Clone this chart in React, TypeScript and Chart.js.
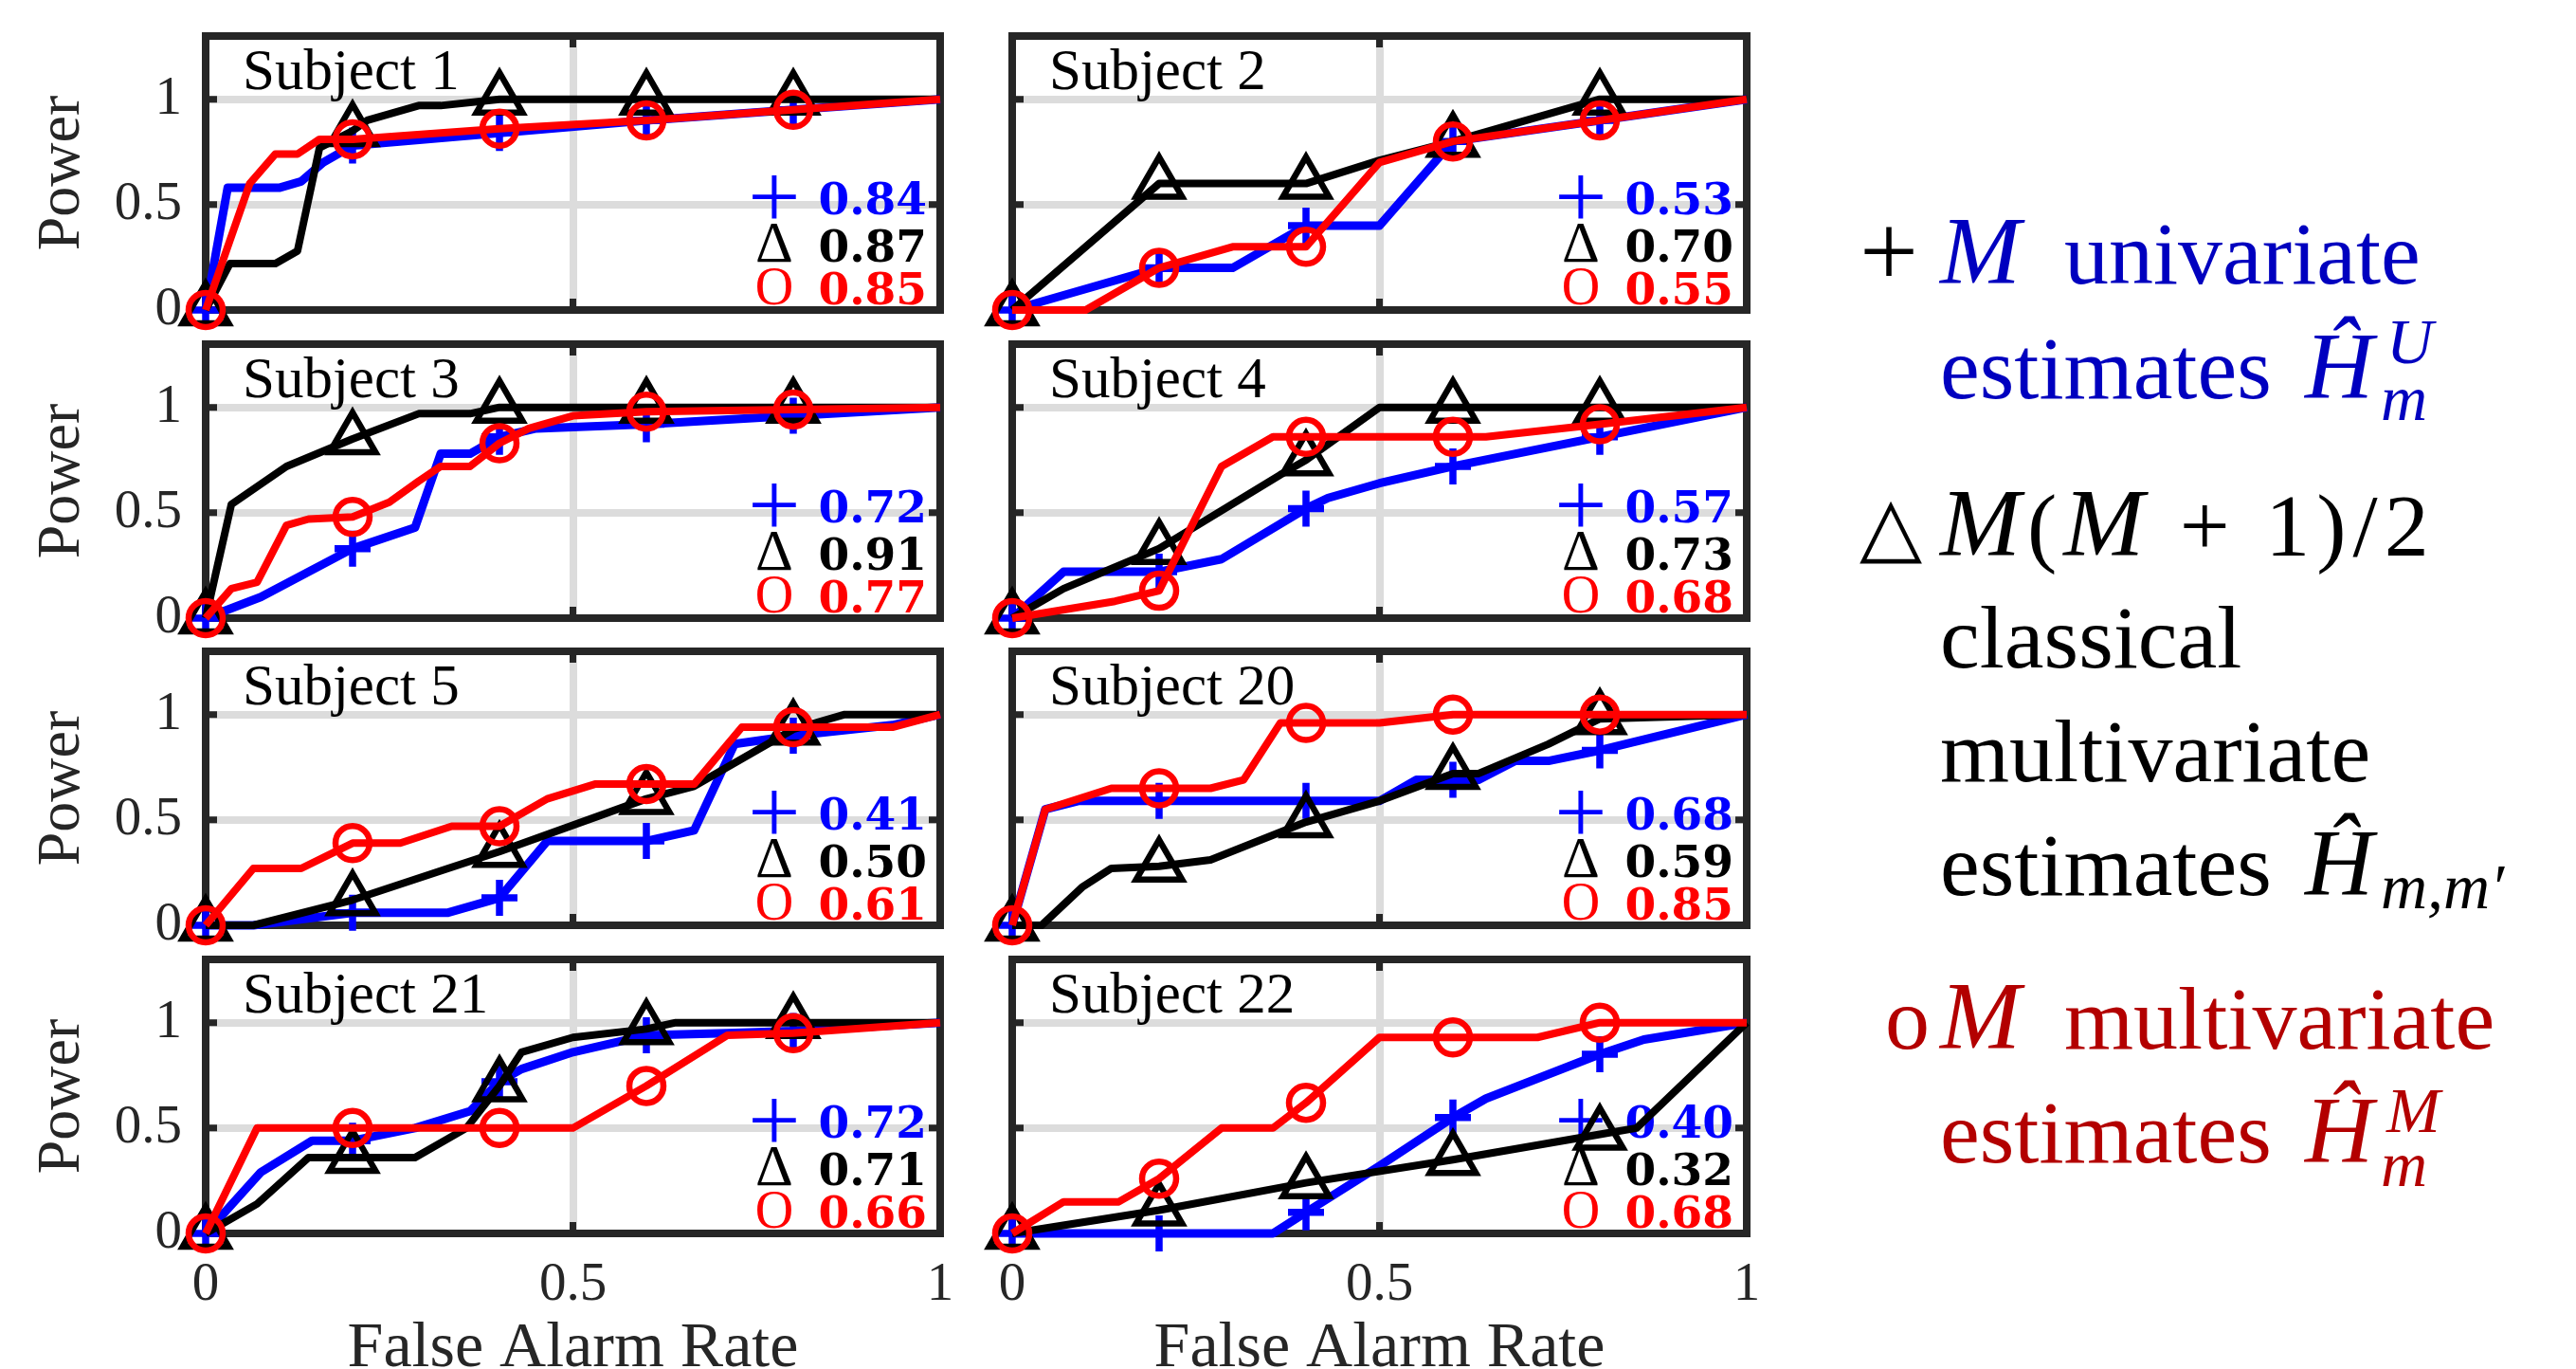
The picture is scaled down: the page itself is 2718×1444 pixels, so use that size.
import React, { useEffect, useRef } from "react";
import { Chart, registerables } from "chart.js";

Chart.register(...registerables);

type Pt = [number, number];

// ---------- text / tick data ----------
const subjectNames = ["Subject 1", "Subject 2", "Subject 3", "Subject 4", "Subject 5", "Subject 20", "Subject 21", "Subject 22"];
const aucUnivariate = ["0.84", "0.53", "0.72", "0.57", "0.41", "0.68", "0.72", "0.40"];
const aucClassical = ["0.87", "0.70", "0.91", "0.73", "0.50", "0.59", "0.71", "0.32"];
const aucMultivariate = ["0.85", "0.55", "0.77", "0.68", "0.61", "0.85", "0.66", "0.68"];
const xTickValues = [0, 0.5, 1];
const yTickValues = [0, 0.5, 1];
const markerFprs = [0, 0.2, 0.4, 0.6, 0.8];

// ---------- ROC curves: [false alarm rate, power] ----------
const s1Univariate: Pt[] = [[0, 0], [0.03, 0.58], [0.1, 0.58], [0.13, 0.61], [0.16, 0.7], [0.2, 0.78], [0.4, 0.84], [0.6, 0.9], [0.8, 0.95], [1, 1]];
const s1Classical: Pt[] = [[0, 0], [0.033, 0.22], [0.095, 0.22], [0.125, 0.28], [0.155, 0.77], [0.2, 0.85], [0.22, 0.9], [0.29, 0.97], [0.32, 0.97], [0.4, 1], [0.6, 1], [0.8, 1], [1, 1]];
const s1Multivariate: Pt[] = [[0, 0], [0.06, 0.6], [0.095, 0.74], [0.125, 0.74], [0.155, 0.81], [0.2, 0.81], [0.4, 0.86], [0.6, 0.9], [0.8, 0.95], [1, 1]];

const s2Univariate: Pt[] = [[0, 0], [0.2, 0.2], [0.3, 0.2], [0.4, 0.4], [0.5, 0.4], [0.6, 0.8], [0.8, 0.9], [1, 1]];
const s2Classical: Pt[] = [[0, 0], [0.2, 0.6], [0.4, 0.6], [0.5, 0.71], [0.6, 0.8], [0.8, 1], [1, 1]];
const s2Multivariate: Pt[] = [[0, 0], [0.1, 0], [0.2, 0.2], [0.3, 0.3], [0.4, 0.3], [0.5, 0.7], [0.6, 0.8], [0.8, 0.9], [1, 1]];

const s3Univariate: Pt[] = [[0, 0], [0.075, 0.1], [0.2, 0.33], [0.285, 0.43], [0.32, 0.78], [0.36, 0.78], [0.4, 0.86], [0.45, 0.9], [0.6, 0.92], [0.8, 0.96], [1, 1]];
const s3Classical: Pt[] = [[0, 0], [0.035, 0.54], [0.11, 0.72], [0.2, 0.85], [0.29, 0.97], [0.36, 0.97], [0.4, 1], [0.6, 1], [0.8, 1], [1, 1]];
const s3Multivariate: Pt[] = [[0, 0], [0.035, 0.14], [0.07, 0.17], [0.11, 0.44], [0.14, 0.47], [0.2, 0.48], [0.25, 0.55], [0.29, 0.65], [0.32, 0.72], [0.36, 0.72], [0.4, 0.83], [0.44, 0.9], [0.5, 0.96], [0.6, 0.98], [0.8, 0.99], [1, 1]];

const s4Univariate: Pt[] = [[0, 0], [0.07, 0.22], [0.2, 0.22], [0.285, 0.28], [0.4, 0.52], [0.43, 0.57], [0.5, 0.64], [0.6, 0.72], [0.8, 0.86], [1, 1]];
const s4Classical: Pt[] = [[0, 0], [0.07, 0.14], [0.2, 0.33], [0.365, 0.68], [0.4, 0.75], [0.5, 1], [0.6, 1], [0.8, 1], [1, 1]];
const s4Multivariate: Pt[] = [[0, 0], [0.14, 0.08], [0.2, 0.13], [0.285, 0.72], [0.355, 0.86], [0.4, 0.86], [0.6, 0.86], [0.645, 0.86], [0.8, 0.92], [1, 1]];

const s5Univariate: Pt[] = [[0, 0], [0.065, 0], [0.2, 0.06], [0.33, 0.06], [0.4, 0.13], [0.465, 0.4], [0.6, 0.4], [0.665, 0.45], [0.72, 0.86], [0.8, 0.9], [0.935, 0.95], [1, 1]];
const s5Classical: Pt[] = [[0, 0], [0.065, 0], [0.2, 0.12], [0.33, 0.27], [0.4, 0.35], [0.6, 0.6], [0.665, 0.66], [0.8, 0.93], [0.87, 1], [1, 1]];
const s5Multivariate: Pt[] = [[0, 0], [0.065, 0.27], [0.13, 0.27], [0.2, 0.39], [0.265, 0.39], [0.335, 0.47], [0.4, 0.47], [0.465, 0.6], [0.53, 0.67], [0.6, 0.67], [0.665, 0.67], [0.73, 0.94], [0.8, 0.94], [0.935, 0.94], [1, 1]];

const s20Univariate: Pt[] = [[0, 0], [0.045, 0.55], [0.09, 0.59], [0.2, 0.59], [0.4, 0.59], [0.5, 0.59], [0.55, 0.69], [0.6, 0.69], [0.635, 0.69], [0.685, 0.78], [0.73, 0.78], [0.8, 0.83], [1, 1]];
const s20Classical: Pt[] = [[0, 0], [0.04, 0], [0.095, 0.18], [0.135, 0.27], [0.2, 0.28], [0.27, 0.31], [0.4, 0.49], [0.5, 0.59], [0.6, 0.72], [0.635, 0.72], [0.73, 0.86], [0.8, 0.98], [1, 1]];
const s20Multivariate: Pt[] = [[0, 0], [0.045, 0.55], [0.135, 0.65], [0.2, 0.65], [0.27, 0.65], [0.315, 0.69], [0.365, 0.96], [0.4, 0.96], [0.5, 0.96], [0.6, 1], [0.8, 1], [1, 1]];

const s21Univariate: Pt[] = [[0, 0], [0.075, 0.29], [0.145, 0.44], [0.2, 0.44], [0.285, 0.5], [0.36, 0.58], [0.4, 0.72], [0.43, 0.78], [0.5, 0.86], [0.6, 0.94], [0.71, 0.95], [0.8, 0.96], [1, 1]];
const s21Classical: Pt[] = [[0, 0], [0.07, 0.14], [0.14, 0.36], [0.2, 0.36], [0.285, 0.36], [0.355, 0.5], [0.4, 0.7], [0.43, 0.86], [0.5, 0.93], [0.6, 0.97], [0.64, 1], [0.8, 1], [1, 1]];
const s21Multivariate: Pt[] = [[0, 0], [0.07, 0.5], [0.2, 0.5], [0.4, 0.5], [0.5, 0.5], [0.6, 0.7], [0.71, 0.94], [0.8, 0.95], [1, 1]];

const s22Univariate: Pt[] = [[0, 0], [0.2, 0], [0.355, 0], [0.4, 0.1], [0.5, 0.32], [0.6, 0.55], [0.645, 0.64], [0.8, 0.85], [0.86, 0.92], [1, 1]];
const s22Classical: Pt[] = [[0, 0], [0.2, 0.11], [0.4, 0.24], [0.6, 0.35], [0.8, 0.47], [0.85, 0.5], [1, 1]];
const s22Multivariate: Pt[] = [[0, 0], [0.07, 0.15], [0.145, 0.15], [0.2, 0.26], [0.285, 0.5], [0.355, 0.5], [0.4, 0.62], [0.5, 0.93], [0.6, 0.93], [0.715, 0.93], [0.8, 1], [1, 1]];

const univariateCurves = [s1Univariate, s2Univariate, s3Univariate, s4Univariate, s5Univariate, s20Univariate, s21Univariate, s22Univariate];
const classicalCurves = [s1Classical, s2Classical, s3Classical, s4Classical, s5Classical, s20Classical, s21Classical, s22Classical];
const multivariateCurves = [s1Multivariate, s2Multivariate, s3Multivariate, s4Multivariate, s5Multivariate, s20Multivariate, s21Multivariate, s22Multivariate];

// ---------- styles ----------
const SERIF = '"Liberation Serif", "Times New Roman", serif';
const BOLD_NUM = '"DejaVu Serif", "Liberation Serif", serif';
const BLUE = "#0000ff";
const RED = "#ff0000";
const BLACK = "#000000";
const AXIS = "#262626";
const GRID = "#dcdcdc";
const LEG_BLUE = "#0000bf";
const LEG_RED = "#b30000";

function zeroPadding(s: any) {
  s.paddingTop = 0;
  s.paddingBottom = 0;
  s.paddingLeft = 0;
  s.paddingRight = 0;
}

function Panel({ idx }: { idx: number }) {
  const ref = useRef<HTMLCanvasElement>(null);
  const col = idx % 2;
  const row = Math.floor(idx / 2);
  const plotLeft = col === 0 ? 217 : 1068;
  const plotTop = [38, 363, 687, 1012][row];
  const plotW = 775;
  const plotH = 289;
  const canvasLeft = col === 0 ? 0 : 1030;
  const canvasW = col === 0 ? 1012 : 850;
  const canvasTop = plotTop - 38;
  const isBottom = row === 3;
  const canvasH = isBottom ? 1444 - canvasTop : 370;
  const yAxisW = plotLeft - canvasLeft;
  const xAxisH = canvasH - 38 - plotH;
  const rightPad = canvasLeft + canvasW - (plotLeft + plotW);

  useEffect(() => {
    const mk = (pts: Pt[]) => pts.map(([x, y]) => ({ x, y }));
    const markerRadius = (r: number) => (c: any) =>
      c.raw && markerFprs.includes(c.raw.x) ? r : 0;

    const decor = {
      id: "panelDecor",
      beforeDatasetsDraw(chart: any) {
        const ctx = chart.ctx as CanvasRenderingContext2D;
        const a = chart.chartArea;
        const xs = chart.scales.x;
        const ys = chart.scales.y;
        ctx.save();
        // axes box
        ctx.strokeStyle = AXIS;
        ctx.lineWidth = 8;
        ctx.strokeRect(a.left, a.top, a.right - a.left, a.bottom - a.top);
        // inward tick marks
        ctx.lineWidth = 7;
        xTickValues.forEach((v) => {
          const px = xs.getPixelForValue(v);
          ctx.beginPath();
          ctx.moveTo(px, a.bottom);
          ctx.lineTo(px, a.bottom - 12);
          ctx.moveTo(px, a.top);
          ctx.lineTo(px, a.top + 12);
          ctx.stroke();
        });
        yTickValues.forEach((v) => {
          const py = ys.getPixelForValue(v);
          ctx.beginPath();
          ctx.moveTo(a.left, py);
          ctx.lineTo(a.left + 12, py);
          ctx.moveTo(a.right, py);
          ctx.lineTo(a.right - 12, py);
          ctx.stroke();
        });
        // subject label
        ctx.fillStyle = BLACK;
        ctx.textAlign = "left";
        ctx.textBaseline = "alphabetic";
        ctx.font = `61px ${SERIF}`;
        ctx.fillText(subjectNames[idx], a.left + 39, a.top + 56);
        // AUC annotations
        const symX = a.right - 175;
        const numX = a.right - 14;
        ctx.textAlign = "center";
        ctx.fillStyle = BLUE;
        ctx.font = `98px ${SERIF}`;
        ctx.fillText("+", symX, a.top + 202);
        ctx.fillStyle = BLACK;
        ctx.font = `62px ${SERIF}`;
        ctx.fillText("Δ", symX, a.top + 238);
        ctx.fillStyle = RED;
        ctx.font = `56px ${SERIF}`;
        ctx.fillText("O", symX, a.top + 283);
        ctx.textAlign = "right";
        ctx.font = `bold 47px ${BOLD_NUM}`;
        ctx.fillStyle = BLUE;
        ctx.fillText(aucUnivariate[idx], numX, a.top + 188);
        ctx.fillStyle = BLACK;
        ctx.fillText(aucClassical[idx], numX, a.top + 238);
        ctx.fillStyle = RED;
        ctx.fillText(aucMultivariate[idx], numX, a.top + 283);
        ctx.restore();
      },
    };

    const chart = new Chart(ref.current as HTMLCanvasElement, {
      type: "line",
      data: {
        datasets: [
          {
            label: "M multivariate",
            data: mk(multivariateCurves[idx]),
            borderColor: RED,
            borderWidth: 8,
            pointStyle: "circle",
            pointRadius: markerRadius(18),
            pointBorderWidth: 6.5,
            pointBorderColor: RED,
            pointBackgroundColor: "rgba(0,0,0,0)",
            order: 1,
            clip: false,
          },
          {
            label: "M(M+1)/2 classical",
            data: mk(classicalCurves[idx]),
            borderColor: BLACK,
            borderWidth: 8,
            pointStyle: "triangle",
            pointRadius: markerRadius(28),
            pointBorderWidth: 6.5,
            pointBorderColor: BLACK,
            pointBackgroundColor: "rgba(0,0,0,0)",
            order: 2,
            clip: false,
          },
          {
            label: "M univariate",
            data: mk(univariateCurves[idx]),
            borderColor: BLUE,
            borderWidth: 9,
            pointStyle: "cross",
            pointRadius: markerRadius(19),
            pointBorderWidth: 7.5,
            pointBorderColor: BLUE,
            pointBackgroundColor: "rgba(0,0,0,0)",
            order: 3,
            clip: false,
          },
        ] as any,
      },
      options: {
        responsive: false,
        animation: false,
        events: [],
        layout: { autoPadding: false, padding: { left: 0, right: rightPad, top: 38, bottom: 0 } },
        plugins: { legend: { display: false }, tooltip: { enabled: false } },
        elements: {
          line: { tension: 0, borderJoinStyle: "round" },
          point: { hoverRadius: 0 },
        },
        scales: {
          x: {
            type: "linear",
            min: 0,
            max: 1,
            afterBuildTicks: (s: any) => {
              s.ticks = xTickValues.map((v) => ({ value: v }));
            },
            afterFit: (s: any) => {
              s.height = xAxisH;
              zeroPadding(s);
            },
            grid: { color: GRID, lineWidth: 8, drawTicks: false },
            border: { display: false },
            ticks: {
              display: isBottom,
              padding: 21,
              autoSkip: false,
              maxRotation: 0,
              color: AXIS,
              font: { family: SERIF, size: 57 },
              callback: (v: any) => String(v),
            },
            title: {
              display: isBottom,
              text: "False Alarm Rate",
              color: AXIS,
              font: { family: SERIF, size: 68, lineHeight: 0.6 },
              padding: 0,
            },
          },
          y: {
            type: "linear",
            min: 0,
            max: 1.3,
            afterBuildTicks: (s: any) => {
              s.ticks = yTickValues.map((v) => ({ value: v }));
            },
            afterFit: (s: any) => {
              s.width = yAxisW;
              zeroPadding(s);
            },
            grid: { color: GRID, lineWidth: 8, drawTicks: false },
            border: { display: false },
            ticks: {
              display: col === 0,
              padding: 25,
              color: AXIS,
              font: { family: SERIF, size: 57 },
              callback: (v: any) => String(v),
            },
            title: {
              display: col === 0,
              text: "Power",
              color: AXIS,
              font: { family: SERIF, size: 64 },
              padding: { top: 28, bottom: 0 },
            },
          },
        },
      } as any,
      plugins: [decor],
    });
    return () => chart.destroy();
  }, []);

  return (
    <canvas
      ref={ref}
      width={canvasW}
      height={canvasH}
      style={{ position: "absolute", left: canvasLeft, top: canvasTop, width: canvasW, height: canvasH }}
    />
  );
}

function T(props: { x: number; base: number; size?: number; color?: string; italic?: boolean; spacing?: number; children: React.ReactNode }) {
  const size = props.size ?? 94;
  return (
    <span
      style={{
        position: "absolute",
        left: props.x,
        top: props.base - 0.8375 * size,
        fontFamily: SERIF,
        fontSize: size,
        lineHeight: `${size}px`,
        color: props.color ?? BLACK,
        fontStyle: props.italic ? "italic" : "normal",
        letterSpacing: props.spacing ?? 0,
        whiteSpace: "pre",
      }}
    >
      {props.children}
    </span>
  );
}

function Legend() {
  return (
    <>
      <T x={1962} base={302} size={110}>+</T>
      <T x={2047} base={299} size={102} color={LEG_BLUE} italic>M</T>
      <T x={2178} base={299} color={LEG_BLUE}>univariate</T>
      <T x={2047} base={420} color={LEG_BLUE}>estimates</T>
      <T x={2432} base={420} size={100} color={LEG_BLUE} italic>Ĥ</T>
      <T x={2518} base={383} size={68} color={LEG_BLUE} italic>U</T>
      <T x={2512} base={443} size={68} color={LEG_BLUE} italic>m</T>

      <T x={1962} base={584} size={86}>△</T>
      <T x={2047} base={584} spacing={7}>
        <i style={{ fontSize: 102 }}>M</i>(<i style={{ fontSize: 102 }}>M</i> + 1)/2
      </T>
      <T x={2047} base={704}>classical</T>
      <T x={2047} base={824}>multivariate</T>
      <T x={2047} base={944}>estimates</T>
      <T x={2432} base={944} size={100} italic>Ĥ</T>
      <T x={2512} base={958} size={68} italic>m,m′</T>

      <T x={1989} base={1106} color={LEG_RED}>o</T>
      <T x={2047} base={1106} size={102} color={LEG_RED} italic>M</T>
      <T x={2178} base={1106} color={LEG_RED}>multivariate</T>
      <T x={2047} base={1226} color={LEG_RED}>estimates</T>
      <T x={2432} base={1226} size={100} color={LEG_RED} italic>Ĥ</T>
      <T x={2518} base={1194} size={68} color={LEG_RED} italic>M</T>
      <T x={2512} base={1251} size={68} color={LEG_RED} italic>m</T>
    </>
  );
}

export default function App() {
  return (
    <div
      style={{
        position: "absolute",
        left: 0,
        top: 0,
        width: 2718,
        height: 1444,
        overflow: "hidden",
        background: "#ffffff",
      }}
    >
      {subjectNames.map((_, i) => (
        <Panel key={i} idx={i} />
      ))}
      <Legend />
    </div>
  );
}
